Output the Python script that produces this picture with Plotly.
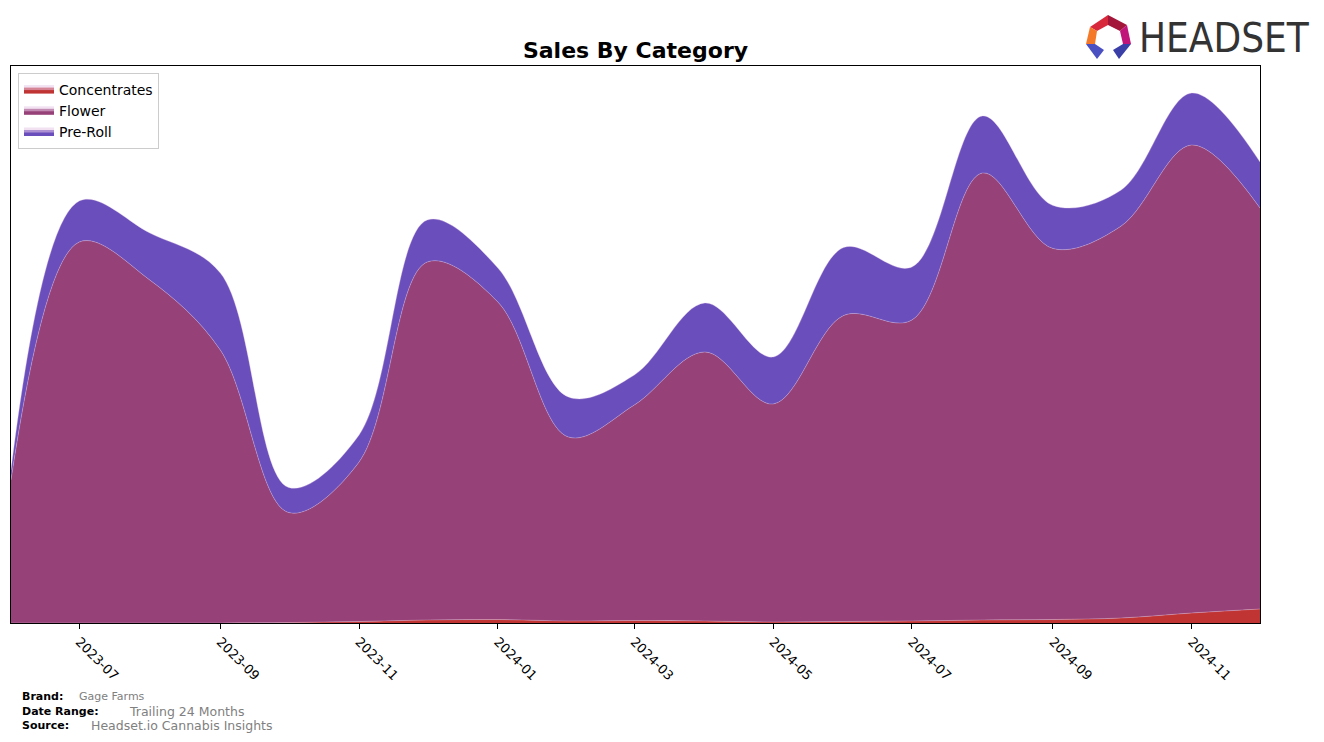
import plotly.graph_objects as go

# ---- data (monthly sales) ----
months = ["2023-06-01", "2023-07-01", "2023-08-01", "2023-09-01", "2023-10-01", "2023-11-01",
          "2023-12-01", "2024-01-01", "2024-02-01", "2024-03-01", "2024-04-01", "2024-05-01",
          "2024-06-01", "2024-07-01", "2024-08-01", "2024-09-01", "2024-10-01", "2024-11-01",
          "2024-12-01"]
concentrates = [0, 0, 0, 0, 500, 1500, 3000, 3500, 2000, 2500, 2000, 1000,
                1500, 2000, 3000, 3500, 5000, 10000, 14000]
flower = [143000, 381000, 343000, 273000, 110000, 159500, 358000, 317500, 184000, 215500,
          269000, 218000, 306000, 301000, 447000, 371000, 392000, 468000, 401000]
preroll = [10000, 41000, 47000, 77000, 25000, 27000, 42000, 34000, 40000, 30000,
           49000, 47000, 68000, 53000, 57000, 43000, 36000, 52000, 46000]
tick_vals = ["2023-07-01", "2023-09-01", "2023-11-01", "2024-01-01", "2024-03-01",
             "2024-05-01", "2024-07-01", "2024-09-01", "2024-11-01"]
tick_text = ["2023-07", "2023-09", "2023-11", "2024-01", "2024-03",
             "2024-05", "2024-07", "2024-09", "2024-11"]

OFF = 8  # page body margin
W, H = 1324 - OFF, 742 - OFF
L, R, T, B = 11, 1260, 66, 623  # plot area in screen pixels


def px(x):
    return (x - L) / (R - L)


def py(y):
    return (B - y) / (B - T)


fig = go.Figure()
series = [("Concentrates", concentrates, "#c13434"),
          ("Flower", flower, "#964177"),
          ("Pre-Roll", preroll, "#6a4fbc")]
for name, vals, col in series:
    fig.add_trace(go.Scatter(
        x=months, y=vals, name=name, mode="lines", stackgroup="one",
        line=dict(shape="spline", smoothing=1.0, width=0.6, color="rgba(230,200,230,0.55)"),
        fillcolor=col,
    ))

# Headset logo icon
logo_polys = [
    ([(1090, 27), (1108, 15), (1108, 25), (1097, 31)], "#d8283c"),
    ([(1108, 15), (1127, 25), (1120, 31), (1108, 25)], "#a3163a"),
    ([(1127, 25), (1131, 44), (1123, 44), (1120, 31)], "#c0147a"),
    ([(1090, 27), (1097, 31), (1095, 44), (1086, 44)], "#f47a2a"),
    ([(1086, 44), (1095, 44), (1104, 50), (1097, 59)], "#4a4fc2"),
    ([(1131, 44), (1123, 44), (1113, 50), (1119, 59)], "#3a3fa8"),
]
shapes = []
for pts, col in logo_polys:
    d = "M " + " L ".join(f"{px(x):.5f},{py(y):.5f}" for x, y in pts) + " Z"
    shapes.append(dict(type="path", path=d, xref="paper", yref="paper",
                       fillcolor=col, line=dict(width=0), layer="above"))


def note(text, x, y, size, color, family="DejaVu Sans"):
    return dict(text=text, x=px(x), y=py(y), xanchor="left", yanchor="middle",
                showarrow=False, xref="paper", yref="paper",
                font=dict(family=family, size=size, color=color))


annotations = [
    note("HEADSET", 1137, 38, 40, "#333333",
         "Liberation Sans Narrow, DejaVu Sans Condensed, Open Sans, sans-serif"),
    note("<b>Brand:</b>", 20, 696, 11, "#000"),
    note("Gage Farms", 77, 696, 11, "#808080"),
    note("<b>Date Range:</b>", 20, 711, 11, "#000"),
    note("Trailing 24 Months", 127, 711, 12.5, "#808080"),
    note("<b>Source:</b>", 20, 725, 11, "#000"),
    note("Headset.io Cannabis Insights", 89, 725, 12.5, "#808080"),
]

fig.update_layout(
    width=W, height=H,
    margin=dict(l=L - OFF, r=W + OFF - R, t=T - OFF, b=H + OFF - B, pad=0),
    paper_bgcolor="white", plot_bgcolor="white",
    title=dict(text="<b>Sales By Category</b>", x=0.5, xref="paper", xanchor="center",
               y=1 - (50 - OFF) / H, yanchor="middle",
               font=dict(family="DejaVu Sans", size=22, color="#000")),
    font=dict(family="DejaVu Sans", size=13, color="#000"),
    showlegend=True,
    legend=dict(x=px(18), y=py(73), xanchor="left", yanchor="top",
                bgcolor="white", bordercolor="#cccccc", borderwidth=1,
                traceorder="normal", font=dict(family="DejaVu Sans", size=14),
                itemsizing="constant", tracegroupgap=0),
    shapes=shapes,
    annotations=annotations,
    hovermode=False,
)
fig.update_xaxes(
    range=["2023-06-01", "2024-12-01"], tickvals=tick_vals, ticktext=tick_text,
    tickangle=45, ticks="outside", ticklen=5, tickcolor="#000", tickwidth=1,
    showline=True, linecolor="#000", linewidth=1, mirror=True, showgrid=False,
    zeroline=False, tickfont=dict(family="DejaVu Sans", size=13, color="#000"),
)
fig.update_yaxes(
    range=[0, 557000], showticklabels=False, ticks="", showgrid=False, zeroline=False,
    showline=True, linecolor="#000", linewidth=1, mirror=True,
)

fig.write_html("out.html")
